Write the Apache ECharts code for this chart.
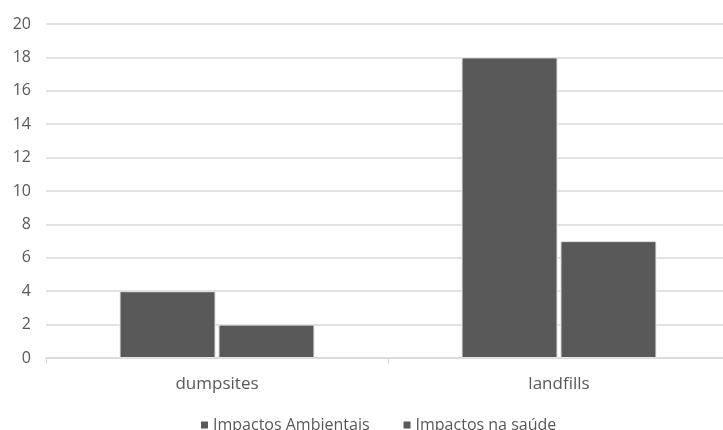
<!DOCTYPE html>
<html>
<head>
<meta charset="utf-8">
<script src="https://cdn.jsdelivr.net/npm/echarts@6/dist/echarts.min.js"></script>
<style>
  html, body { margin: 0; padding: 0; background: #fff; overflow: hidden; }
  #wrap { width: 723px; height: 430px; overflow: hidden; }
  /* plot area runs slightly past the right edge of the visible frame */
  #chart { width: 730px; height: 430px; }
</style>
</head>
<body>
<div id="wrap"><div id="chart"></div></div>
<script>
// Impact counts per waste disposal type
const categories = ['dumpsites', 'landfills'];
const seriesNames = ['Impactos Ambientais', 'Impactos na saúde'];
const ambientais = [4, 18];
const saude = [2, 7];
const yTicks = { min: 0, max: 20, interval: 2 };

const textColor = '#595959';
const barColor = '#595959';
const fontFamily = '"Open Sans", "Noto Sans", sans-serif';

const chart = echarts.init(document.getElementById('chart'), null, { renderer: 'canvas' });

chart.setOption({
  animation: false,
  backgroundColor: '#ffffff',
  textStyle: { fontFamily: fontFamily, color: textColor },
  grid: { left: 46, top: 24, right: 0, bottom: 72, containLabel: false },
  legend: {
    top: 412,
    left: 196,
    itemWidth: 7,
    itemHeight: 7,
    itemGap: 34,
    icon: 'rect',
    itemStyle: { borderWidth: 0 },
    textStyle: { fontFamily: fontFamily, fontSize: 16, color: textColor },
    data: seriesNames
  },
  xAxis: {
    type: 'category',
    data: categories,
    axisLine: { lineStyle: { color: '#d9d9d9', width: 1.5 } },
    axisTick: { show: true, length: 6, lineStyle: { color: '#d9d9d9' } },
    axisLabel: { fontSize: 17, color: textColor, margin: 18, fontFamily: fontFamily }
  },
  yAxis: {
    type: 'value',
    min: yTicks.min,
    max: yTicks.max,
    interval: yTicks.interval,
    axisLine: { show: false },
    axisTick: { show: false },
    splitLine: { lineStyle: { color: '#d9d9d9', width: 1.5 } },
    axisLabel: { fontSize: 16, color: textColor, margin: 15, fontFamily: fontFamily }
  },
  series: [
    {
      name: seriesNames[0],
      type: 'bar',
      data: ambientais,
      barGap: '3%',
      barCategoryGap: '43%',
      itemStyle: { color: barColor, borderColor: '#e6e6e6', borderWidth: 1 }
    },
    {
      name: seriesNames[1],
      type: 'bar',
      data: saude,
      barGap: '3%',
      barCategoryGap: '43%',
      itemStyle: { color: barColor, borderColor: '#e6e6e6', borderWidth: 1 }
    }
  ]
});
</script>
</body>
</html>
